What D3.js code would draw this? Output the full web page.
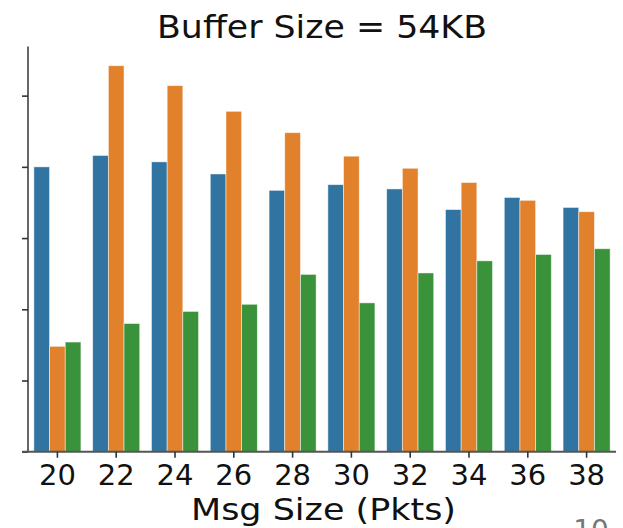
<!DOCTYPE html>
<html>
<head>
<meta charset="utf-8">
<script src="https://cdn.jsdelivr.net/npm/d3@7"></script>
<style>
  html, body { margin: 0; padding: 0; background: #fff; }
  svg { display: block; font-family: "DejaVu Sans", sans-serif; }
</style>
</head>
<body>
<svg id="chart" width="623" height="528"></svg>
<script>
// Message sizes (packets) on the x axis
const msgSizes = ["20", "22", "24", "26", "28", "30", "32", "34", "36", "38"];
const seriesNames = ["A", "B", "C"];
const seriesColors = ["#3274a1", "#e1812c", "#3a923a"];

// Values per series, one per message size
const seriesA = [4.00, 4.16, 4.07, 3.90, 3.67, 3.75, 3.69, 3.40, 3.57, 3.43];
const seriesB = [1.48, 5.42, 5.14, 4.78, 4.48, 4.15, 3.98, 3.78, 3.53, 3.37];
const seriesC = [1.54, 1.80, 1.97, 2.07, 2.49, 2.09, 2.51, 2.68, 2.77, 2.85];
const seriesValues = [seriesA, seriesB, seriesC];

// Y tick positions (labels are not shown)
const yTicks = [0, 1, 2, 3, 4, 5];
const yMax = 5.69;

const svg = d3.select("#chart");
const plotLeft = 28, plotRight = 616, plotTop = 46.5, plotBottom = 451.7;

const x = d3.scaleBand().domain(msgSizes).range([plotLeft, plotRight]).padding(0);
const inner = d3.scaleBand().domain(seriesNames)
  .range([0, x.bandwidth() * 0.8]).padding(0);
const y = d3.scaleLinear().domain([0, yMax]).range([plotBottom, plotTop]);

const rows = msgSizes.map((m, i) => ({
  m,
  vals: seriesNames.map((s, j) => ({ s, j, v: seriesValues[j][i] }))
}));

// Bars
const groups = svg.append("g").selectAll("g").data(rows).join("g")
  .attr("transform", d => `translate(${x(d.m) + x.bandwidth() * 0.1},0)`);
groups.selectAll("rect").data(d => d.vals).join("rect")
  .attr("x", d => inner(d.s))
  .attr("width", inner.bandwidth())
  .attr("y", d => y(d.v))
  .attr("height", d => y(0) - y(d.v))
  .attr("fill", d => seriesColors[d.j])
  .attr("stroke", "#ffffff")
  .attr("stroke-opacity", 0.6)
  .attr("stroke-width", 0.8);

// Y axis: ticks without labels
const yAxis = svg.append("g").attr("transform", `translate(${plotLeft},0)`)
  .call(d3.axisLeft(y).tickValues(yTicks).tickSize(6).tickFormat(""));
yAxis.select(".domain").attr("d", `M0,${plotTop}V${plotBottom}`)
  .attr("stroke", "#666").attr("stroke-width", 2);
yAxis.selectAll(".tick line").attr("stroke", "#333").attr("stroke-width", 1.6);

// X axis
const xAxis = svg.append("g").attr("transform", `translate(0,${plotBottom})`)
  .call(d3.axisBottom(x).tickSize(6).tickPadding(6));
xAxis.select(".domain").attr("d", `M${plotLeft - 6},0H${plotRight}`)
  .attr("stroke", "#555").attr("stroke-width", 2);
xAxis.selectAll(".tick line").attr("stroke", "#333").attr("stroke-width", 1.6);
xAxis.selectAll(".tick text")
  .attr("font-size", 29)
  .attr("fill", "#111")
  .attr("font-family", "DejaVu Sans")
  .attr("dy", null)
  .attr("y", 33.5);

// Title
svg.append("text")
  .attr("x", (plotLeft + plotRight) / 2).attr("y", 37.5)
  .attr("text-anchor", "middle")
  .attr("font-size", 32.5).attr("fill", "#111")
  .attr("textLength", 330).attr("lengthAdjust", "spacingAndGlyphs")
  .text("Buffer Size = 54KB");

// X axis title
svg.append("text")
  .attr("x", (plotLeft + plotRight) / 2 + 1.5).attr("y", 520)
  .attr("text-anchor", "middle")
  .attr("font-size", 31).attr("fill", "#111")
  .attr("textLength", 265).attr("lengthAdjust", "spacingAndGlyphs")
  .text("Msg Size (Pkts)");

// Page number in the corner
svg.append("text")
  .attr("x", 591).attr("y", 540)
  .attr("text-anchor", "middle")
  .attr("font-size", 28).attr("fill", "#777")
  .text("10");
</script>
</body>
</html>
